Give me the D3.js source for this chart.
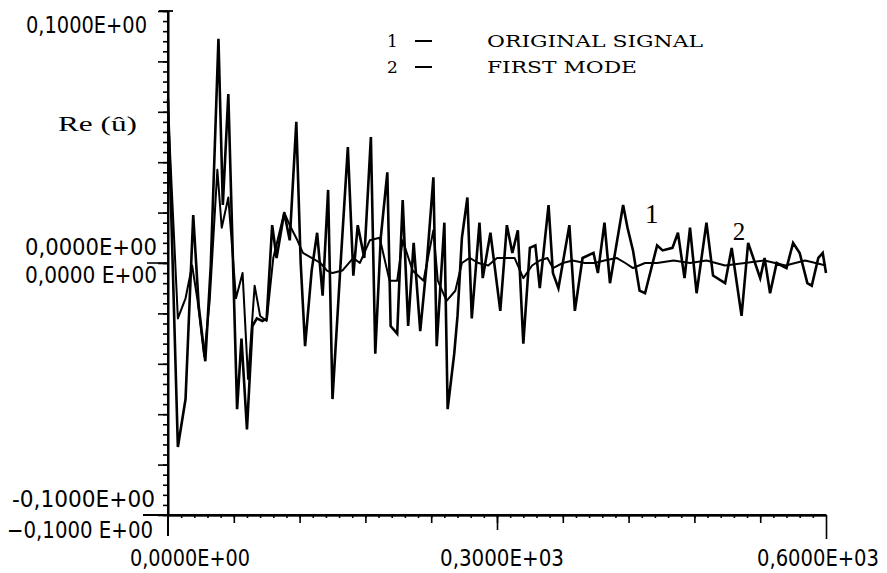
<!DOCTYPE html>
<html>
<head>
<meta charset="utf-8">
<script src="https://cdn.jsdelivr.net/npm/d3@7"></script>
<style>
body { margin: 0; background: #fff; }
svg { display: block; }
.num { font-family: "Liberation Sans Narrow", "DejaVu Sans Condensed", "Liberation Sans", sans-serif; font-size: 23px; fill: #000; }
.ser { font-family: "DejaVu Serif", "Liberation Serif", serif; fill: #000; }
.thin { font-family: "Liberation Serif", "DejaVu Serif", serif; fill: #000; }
.axis path, .axis line { stroke: #000; stroke-width: 1.6; }
</style>
</head>
<body>
<svg id="chart" width="887" height="573"></svg>
<script>
// original signal (curve 1)
var xOrig = [0, 9, 16, 23, 28, 34, 39, 46, 50, 55, 63, 67, 72, 77, 81, 86, 90, 95, 99, 106,
  111, 117, 121, 125, 131, 136, 141, 146, 150, 157, 164, 169, 173, 179, 185, 189, 194, 200, 203, 209,
  214, 219, 224, 230, 236, 242, 245, 252, 255, 261, 264, 268, 273, 277, 284, 287, 294, 303, 309, 314,
  319, 324, 330, 335, 339, 347, 351, 356, 366, 371, 378, 388, 392, 398, 403, 415, 419, 424, 430, 435,
  446, 451, 460, 465, 471, 476, 482, 491, 497, 508, 514, 523, 529, 540, 544, 549, 555, 564, 570, 576,
  583, 587, 593, 597, 600];
var yOrig = [0.065, -0.073, -0.054, 0.019, -0.017, -0.039, -0.001, 0.089, 0.023, 0.067, -0.058, -0.030, -0.066, -0.025, -0.022, -0.023, -0.022, 0.015, 0.002, 0.020,
  0.009, 0.056, 0.000, -0.033, -0.003, 0.012, -0.013, 0.029, -0.054, -0.003, 0.046, -0.005, 0.015, 0.002, 0.050, -0.036, 0.010, 0.036, -0.025, -0.028,
  0.025, -0.025, 0.008, -0.027, 0.000, 0.034, -0.033, 0.016, -0.058, -0.036, -0.021, 0.010, 0.026, -0.022, 0.016, -0.006, 0.012, -0.019, 0.015, 0.004,
  0.013, -0.032, 0.006, 0.007, -0.010, 0.023, -0.004, -0.010, 0.015, -0.019, 0.002, 0.004, -0.004, 0.016, -0.008, 0.023, 0.014, 0.005, -0.011, -0.012,
  0.007, 0.005, 0.006, 0.012, -0.006, 0.014, -0.012, 0.016, -0.005, -0.008, 0.006, -0.021, 0.008, -0.006, 0.002, -0.012, 0.000, -0.002, 0.008, 0.004,
  -0.008, -0.009, 0.002, 0.004, -0.004];

// first mode (curve 2)
var xMode = [0, 9, 16, 22, 27, 33, 38, 45, 49, 55, 62, 68, 73, 79, 84, 90, 96, 101, 106, 111,
  118, 123, 131, 139, 145, 150, 159, 169, 175, 184, 193, 202, 209, 214, 223, 233, 242, 246, 254, 262,
  268, 275, 283, 292, 300, 309, 316, 324, 332, 339, 346, 351, 360, 369, 380, 389, 398, 409, 417, 424,
  435, 446, 461, 476, 491, 508, 526, 544, 563, 581, 600];
var yMode = [0.061, -0.022, -0.014, -0.001, -0.015, -0.037, -0.015, 0.037, 0.014, 0.026, -0.014, -0.004, -0.046, -0.009, -0.021, -0.023, 0.002, 0.011, 0.020, 0.015,
  0.009, 0.004, 0.002, 0.000, -0.003, -0.004, -0.003, 0.002, 0.000, 0.009, 0.010, -0.007, -0.007, 0.009, -0.003, -0.007, 0.013, -0.007, -0.015, -0.011,
  0.000, 0.002, 0.000, -0.001, 0.002, 0.002, 0.002, -0.006, -0.001, 0.001, 0.002, -0.002, 0.000, 0.001, 0.000, 0.000, 0.001, 0.002, 0.000, -0.002,
  0.000, 0.000, 0.001, 0.000, 0.001, -0.001, 0.000, 0.001, -0.001, 0.001, -0.001];

var xTickLabels = ["0,0000E+00", "0,3000E+03", "0,6000E+03"];
var yTickValues = [0.1, 0, -0.1, 0, -0.1];
var yTickLabels = ["0,1000E+00", "0,0000 E+00", "\u22120,1000 E+00", "0,0000E+00", "-0,1000E+00"];
var legendNums = ["1", "2"];
var legendNames = ["ORIGINAL SIGNAL", "FIRST MODE"];
var curveLabels = ["1", "2"];

var svg = d3.select("#chart");
var x = d3.scaleLinear().domain([0, 600]).range([168, 826]);
var y = d3.scaleLinear().domain([-0.1, 0.1]).range([515, 11]);

// y axis: minor and major ticks
svg.append("g").attr("class", "axis")
  .attr("transform", "translate(168,0)")
  .call(d3.axisLeft(y).tickValues(d3.range(-25, 26).map(function(d) { return d * 0.004; }))
    .tickSize(5).tickSizeOuter(0).tickFormat(""));
svg.append("g").attr("class", "axis")
  .attr("transform", "translate(168,0)")
  .call(d3.axisLeft(y).tickValues(d3.range(-5, 6).map(function(d) { return d * 0.02; }))
    .tickSize(10).tickSizeOuter(0).tickFormat(""));

// x axis
svg.append("g").attr("class", "axis")
  .attr("transform", "translate(0,515)")
  .call(d3.axisBottom(x).tickValues(d3.range(1, 50).map(function(d) { return d * 12; }))
    .tickSize(3).tickSizeOuter(0).tickFormat(""));
svg.append("g").attr("class", "axis")
  .attr("transform", "translate(0,515)")
  .call(d3.axisBottom(x).tickValues(d3.range(1, 10).map(function(d) { return d * 60; }))
    .tickSize(8).tickSizeOuter(0).tickFormat(""));
svg.append("g").attr("class", "axis")
  .attr("transform", "translate(0,515)")
  .call(d3.axisBottom(x).tickValues([300]).tickSize(15).tickSizeOuter(0).tickFormat(""));
svg.append("g").attr("class", "axis")
  .attr("transform", "translate(0,515)")
  .call(d3.axisBottom(x).tickValues([600]).tickSize(24).tickSizeOuter(0).tickFormat(""));

// extra axis strokes of the plotter
svg.append("line").attr("x1", 143).attr("x2", x(600)).attr("y1", y(-0.1)).attr("y2", y(-0.1))
  .attr("stroke", "#000").attr("stroke-width", 1.8);
svg.append("line").attr("x1", x(0)).attr("x2", x(0)).attr("y1", y(0.1)).attr("y2", 536)
  .attr("stroke", "#000").attr("stroke-width", 2);
svg.append("line").attr("x1", 159).attr("x2", 173).attr("y1", y(0.1)).attr("y2", y(0.1))
  .attr("stroke", "#000").attr("stroke-width", 1.8);
svg.append("line").attr("x1", 147).attr("x2", x(0)).attr("y1", y(0)).attr("y2", y(0))
  .attr("stroke", "#000").attr("stroke-width", 1.6);

// y tick labels (two overlaid plots give doubled labels)
var yLay = [{end: 147, w: 121, dy: 22}, {end: 157, w: 132, dy: 20}, {end: 153, w: 146, dy: 23},
            {end: 157, w: 132, dy: -8}, {end: 155, w: 143, dy: -8}];
svg.selectAll(".ylab").data(yTickLabels).enter().append("text")
  .attr("class", "num ylab")
  .attr("x", function(d, i) { return yLay[i].end - yLay[i].w; })
  .attr("y", function(d, i) { return y(yTickValues[i]) + yLay[i].dy; })
  .attr("textLength", function(d, i) { return yLay[i].w; })
  .attr("lengthAdjust", "spacingAndGlyphs")
  .text(function(d) { return d; });

// x tick labels
var xLay = [{start: 130, w: 120}, {start: 440, w: 124}, {start: 757, w: 122}];
svg.selectAll(".xlab").data(xTickLabels).enter().append("text")
  .attr("class", "num xlab")
  .attr("x", function(d, i) { return xLay[i].start; })
  .attr("y", 566)
  .attr("textLength", function(d, i) { return xLay[i].w; })
  .attr("lengthAdjust", "spacingAndGlyphs")
  .text(function(d) { return d; });

// axis title
svg.append("text").attr("class", "thin")
  .attr("x", 58).attr("y", 131).attr("font-size", 22)
  .attr("textLength", 79).attr("lengthAdjust", "spacingAndGlyphs")
  .text("Re (\u00fb)");

// curves
var line = d3.line()
  .x(function(d) { return x(d[0]); })
  .y(function(d) { return y(d[1]); });

svg.append("path")
  .datum(xMode.map(function(d, i) { return [d, yMode[i]]; }))
  .attr("d", line)
  .attr("fill", "none").attr("stroke", "#000").attr("stroke-width", 2)
  .attr("stroke-linejoin", "round");

svg.append("path")
  .datum(xOrig.map(function(d, i) { return [d, yOrig[i]]; }))
  .attr("d", line)
  .attr("fill", "none").attr("stroke", "#000").attr("stroke-width", 2.6)
  .attr("stroke-linejoin", "miter");

// curve numbers
var cLay = [{x: 435, v: 0.016, fs: 27}, {x: 515, v: 0.009, fs: 25}];
svg.selectAll(".clab").data(curveLabels).enter().append("text")
  .attr("class", "thin clab")
  .attr("x", function(d, i) { return x(cLay[i].x); })
  .attr("y", function(d, i) { return y(cLay[i].v); })
  .attr("font-size", function(d, i) { return cLay[i].fs; })
  .text(function(d) { return d; });

// legend
var leg = svg.selectAll(".leg").data(legendNames).enter().append("g")
  .attr("class", "leg")
  .attr("transform", function(d, i) { return "translate(0," + (47 + i * 26) + ")"; });
leg.append("text").attr("class", "ser").attr("x", 387).attr("font-size", 17)
  .text(function(d, i) { return legendNums[i]; });
leg.append("line").attr("x1", 415).attr("x2", 432).attr("y1", -6).attr("y2", -6)
  .attr("stroke", "#000").attr("stroke-width", 2);
leg.append("text").attr("class", "ser").attr("x", 487).attr("font-size", 17)
  .attr("textLength", function(d, i) { return i === 0 ? 216 : 150; })
  .attr("lengthAdjust", "spacingAndGlyphs")
  .text(function(d) { return d; });
</script>
</body>
</html>
